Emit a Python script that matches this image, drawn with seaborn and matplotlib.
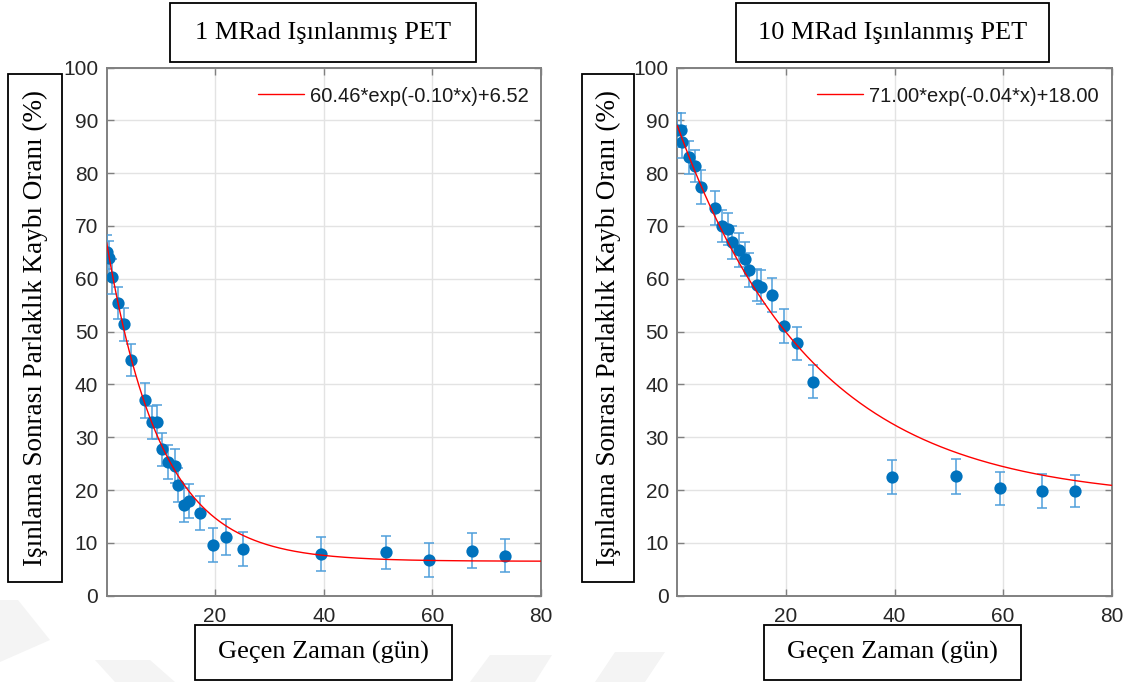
import numpy as np
import pandas as pd
import matplotlib
matplotlib.use("Agg")
import matplotlib.pyplot as plt
from matplotlib.patches import Rectangle, Polygon
import seaborn as sns

# ---------------- data ----------------
days_1 = [0.0, 0.5, 1.0, 2.2, 3.3, 4.5, 7.0, 8.3, 9.3, 10.2, 11.4, 12.7,
          13.2, 14.3, 15.1, 17.3, 19.6, 22.0, 25.2, 39.5, 51.4, 59.4, 67.3, 73.4]
loss_1 = [65.0, 64.0, 60.4, 55.4, 51.4, 44.6, 37.0, 32.8, 32.9, 27.7, 25.3, 24.5,
          21.0, 17.1, 17.9, 15.6, 9.6, 11.1, 8.8, 7.9, 8.2, 6.7, 8.5, 7.6]
err_1 = [3.2, 3.2, 3.3, 3.0, 3.1, 3.1, 3.3, 3.2, 3.2, 3.1, 3.2, 3.2,
         3.2, 3.2, 3.2, 3.2, 3.3, 3.4, 3.2, 3.2, 3.1, 3.2, 3.3, 3.1]

days_10 = [0.0, 0.6, 0.9, 2.2, 3.2, 4.3, 7.0, 8.3, 9.3, 10.1, 11.3, 12.5,
           13.2, 14.6, 15.4, 17.4, 19.6, 22.1, 25.0, 39.5, 51.3, 59.4, 67.1, 73.3]
loss_10 = [88.1, 88.2, 85.9, 83.0, 81.3, 77.4, 73.4, 70.0, 69.4, 66.9, 65.5, 63.7,
           61.7, 58.8, 58.5, 57.0, 51.0, 47.8, 40.5, 22.4, 22.6, 20.3, 19.8, 19.8]
err_10 = [3.2, 3.2, 3.0, 3.1, 3.0, 3.2, 3.2, 3.0, 3.0, 3.1, 3.2, 3.2,
          3.2, 3.0, 3.2, 3.2, 3.2, 3.1, 3.1, 3.2, 3.3, 3.2, 3.2, 3.1]

fit_1 = dict(a=60.46, b=-0.10, c=6.52)
fit_10 = dict(a=71.00, b=-0.04, c=18.00)
fit_label_1 = "60.46*exp(-0.10*x)+6.52"
fit_label_10 = "71.00*exp(-0.04*x)+18.00"

titles = ["1 MRad Işınlanmış PET", "10 MRad Işınlanmış PET"]
xlabel = "Geçen Zaman (gün)"
ylabel = "Işınlama Sonrası Parlaklık Kaybı Oranı (%)"
x_ticks = [20, 40, 60, 80]
y_ticks = [0, 10, 20, 30, 40, 50, 60, 70, 80, 90, 100]

# ---------------- style ----------------
sns.set_theme(style="white")
plt.rcParams["font.family"] = ["Liberation Sans", "DejaVu Sans"]
SERIF = ["Liberation Serif", "DejaVu Serif"]

W, H = 1131, 682
fig = plt.figure(figsize=(W / 100, H / 100), dpi=100)
fig.patch.set_facecolor("white")

def fx(px):
    return px / W

def fy(py):
    return 1 - py / H

# very faint watermark shapes (background)
wm = "#f4f4f4"
for pts in [
    [(0, 600), (18, 600), (50, 640), (0, 662)],
    [(95, 660), (150, 660), (175, 682), (115, 682)],
    [(490, 655), (552, 655), (535, 682), (470, 682)],
    [(615, 652), (665, 652), (645, 682), (595, 682)],
]:
    fig.add_artist(Polygon([(fx(a), fy(b)) for a, b in pts], closed=True,
                           transform=fig.transFigure, facecolor=wm,
                           edgecolor="none", zorder=0))

MARKER = "#0072BD"
ERRC = "#4F9FDB"
SPINE = "#808080"

panels = [
    dict(left=106.5, right=541.0, days=days_1, loss=loss_1, err=err_1, fit=fit_1,
         label=fit_label_1, leg_x=258, title=titles[0],
         tbox=(170, 476), ybox=(8, 62), xbox=(195, 452)),
    dict(left=677.3, right=1111.7, days=days_10, loss=loss_10, err=err_10, fit=fit_10,
         label=fit_label_10, leg_x=817, title=titles[1],
         tbox=(736, 1049), ybox=(582, 634), xbox=(764, 1021)),
]

top_px, bot_px = 67.5, 595.7

for p in panels:
    ax = fig.add_axes([fx(p["left"]), fy(bot_px), (p["right"] - p["left"]) / W,
                       (bot_px - top_px) / H])
    ax.set_facecolor("white")

    df = pd.DataFrame({"day": p["days"], "loss": p["loss"], "err": p["err"]})
    xs = np.linspace(0, 80, 400)
    fit_df = pd.DataFrame({"day": xs,
                           "fit": p["fit"]["a"] * np.exp(p["fit"]["b"] * xs) + p["fit"]["c"]})

    ax.errorbar(df["day"], df["loss"], yerr=df["err"], fmt="none", ecolor=ERRC,
                elinewidth=1.1, capsize=3.3, capthick=1.1, zorder=3)
    sns.scatterplot(data=df, x="day", y="loss", ax=ax, color=MARKER, s=78,
                    edgecolor=MARKER, linewidth=0, zorder=4, legend=False)
    sns.lineplot(data=fit_df, x="day", y="fit", ax=ax, color="#ff0000",
                 linewidth=1.0, zorder=5, label=p["label"])

    ax.set_xlim(0, 80)
    ax.set_ylim(0, 100)
    ax.set_xticks(x_ticks)
    ax.set_yticks(y_ticks)
    ax.set_xlabel("")
    ax.set_ylabel("")
    ax.grid(True, color="#e3e3e3", linewidth=1.0, zorder=0)
    ax.set_axisbelow(True)
    for s in ax.spines.values():
        s.set_color(SPINE)
        s.set_linewidth(1.4)
    ax.tick_params(axis="both", direction="in", length=5, width=1.0, color=SPINE,
                   labelsize=15, labelcolor="#262626", top=True, right=True,
                   bottom=True, left=True, pad=6)
    ax.tick_params(axis="x", pad=8)

    leg = ax.legend(loc="center left",
                    bbox_to_anchor=((p["leg_x"] - p["left"]) / (p["right"] - p["left"]),
                                    (bot_px - 96) / (bot_px - top_px)),
                    frameon=False, fontsize=14.5, handlelength=2.3, handletextpad=0.3,
                    borderpad=0, borderaxespad=0)
    for t in leg.get_texts():
        t.set_color("#1a1a1a")

    # boxed labels
    def boxed(x0, x1, y0, y1, text, rot=0, size=19):
        fig.add_artist(Rectangle((fx(x0), fy(y1)), (x1 - x0) / W, (y1 - y0) / H,
                                 transform=fig.transFigure, facecolor="white",
                                 edgecolor="black", linewidth=1.3, zorder=6))
        fig.text(fx((x0 + x1) / 2), fy((y0 + y1) / 2), text, rotation=rot,
                 ha="center", va="center", family=SERIF, fontsize=size,
                 color="black", zorder=7)

    boxed(p["tbox"][0], p["tbox"][1], 3, 62, p["title"])
    boxed(p["ybox"][0], p["ybox"][1], 74, 582, ylabel, rot=90, size=19.5)
    boxed(p["xbox"][0], p["xbox"][1], 625, 680, xlabel)

fig.savefig("out.png", dpi=100, facecolor="white")
